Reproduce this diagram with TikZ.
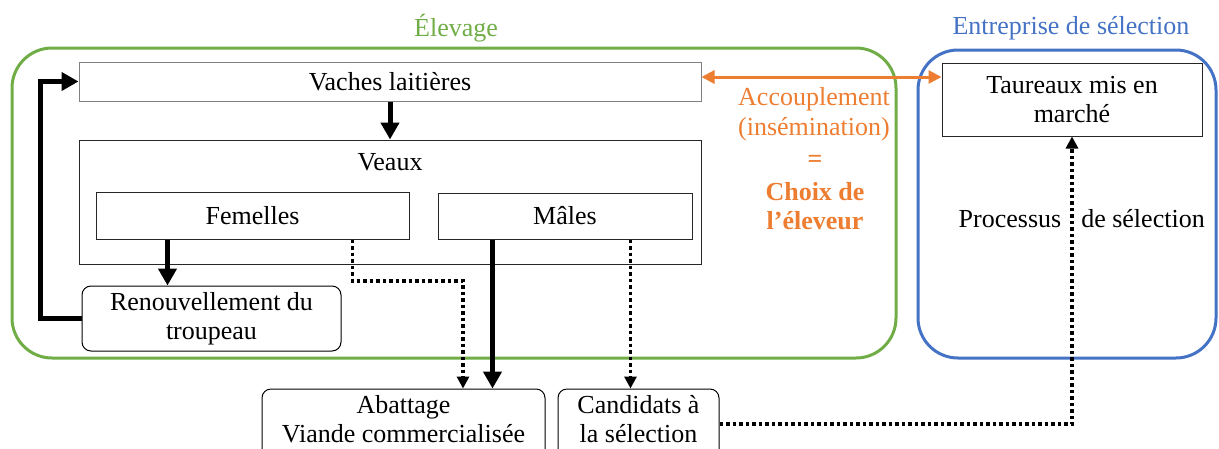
\documentclass[tikz,border=0pt]{standalone}
\usepackage{fontspec}
\setmainfont{Liberation Serif}
\usetikzlibrary{arrows.meta}
\definecolor{grn}{RGB}{112,173,71}
\definecolor{blu}{RGB}{68,114,196}
\definecolor{org}{RGB}{237,125,49}
\begin{document}
\begin{tikzpicture}[x=1pt,y=-1pt,
  every node/.style={font=\fontsize{26}{29.5}\selectfont, inner sep=0pt, align=center},
  sqbox/.style={draw=black!85, line width=1pt, rectangle},
  rbox/.style={draw=black, line width=1pt, rounded corners=9pt},
  thickarrow/.style={line width=5pt, -{Triangle[length=17pt,width=18pt]}},
  dotarrow/.style={line width=3.5pt, dash pattern=on 3.5pt off 3pt, -{Triangle[length=12pt,width=12pt]}},
  orangearrow/.style={draw=org, line width=3pt, {Triangle[length=13pt,width=13pt]}-{Triangle[length=13pt,width=13pt]}},
  container/.style={line width=3pt, rounded corners=40pt},
]
\useasboundingbox (0,0) rectangle (1219,448);
\clip (0,0) rectangle (1219,448);

% containers
\node[container, draw=grn, minimum width=884pt, minimum height=310pt] (elevage) at (454,203) {};
\node[text=grn] (elevagelbl) at (456,28) {Élevage};
\node[container, draw=blu, minimum width=298pt, minimum height=308pt] (entreprise) at (1067,204) {};
\node[text=blu] (entrepriselbl) at (1071,28) {Entreprise de sélection};

% boxes
\node[sqbox, draw=black!50, minimum width=622pt, minimum height=39pt] (vaches) at (390,81.5) {Vaches laitières};
\node[sqbox, minimum width=622pt, minimum height=124pt] (veaux) at (390,202) {};
\node (veauxlbl) at (390,162) {Veaux};
\node[sqbox, minimum width=313pt, minimum height=47pt] (femelles) at (252.5,215.5) {Femelles};
\node[sqbox, minimum width=254pt, minimum height=46pt] (males) at (565,216) {Mâles};
\node[rbox, minimum width=259pt, minimum height=65pt] (renouv) at (211.5,318.5) {Renouvellement du\\troupeau};
\node[rbox, minimum width=283pt, minimum height=70pt, text depth=10pt] (abattage) at (403.5,424) {Abattage\\Viande commercialisée};
\node[rbox, minimum width=161pt, minimum height=70pt, text depth=10pt] (candidats) at (638.5,424) {Candidats à\\la sélection};
\node[sqbox, minimum width=260pt, minimum height=73pt] (taureaux) at (1072,99.5) {Taureaux mis en\\marché};

% orange annotation
\node[text=org] (accoup) at (814,114) {Accouplement\\(insémination)};
\node[text=org, font=\fontsize{26}{29.5}\selectfont\bfseries] (eq) at (815,161) {=};
\node[text=org, font=\fontsize{26}{28.5}\selectfont\bfseries] (choix) at (815,206) {Choix de\\l’éleveur};

% process labels
\node (proc1) at (1010,219) {Processus};
\node (proc2) at (1143,219) {de sélection};

% connectors
\draw[thickarrow] (vaches.south) -- (veaux.north);
\coordinate (f1) at ([xshift=72pt]femelles.south west);
\draw[thickarrow] (f1) -- (f1 |- renouv.north);
\draw[thickarrow] (renouv.west) -- ++(-41,0) |- (vaches.west);
\coordinate (f2) at ([xshift=257pt]femelles.south west);
\coordinate (turn) at (463,281);
\draw[dotarrow] (f2) |- (turn) -- (turn |- abattage.north);
\coordinate (m1) at ([xshift=55pt]males.south west);
\draw[thickarrow] (m1) -- (m1 |- abattage.north);
\coordinate (m2) at ([xshift=193pt]males.south west);
\draw[dotarrow] (m2) -- (m2 |- candidats.north);
\draw[dotarrow] (candidats.east) -| (taureaux.south);
\coordinate (o1) at ([yshift=4.5pt]vaches.east);
\draw[orangearrow] (o1) -- (o1 -| taureaux.west);
\end{tikzpicture}
\end{document}
